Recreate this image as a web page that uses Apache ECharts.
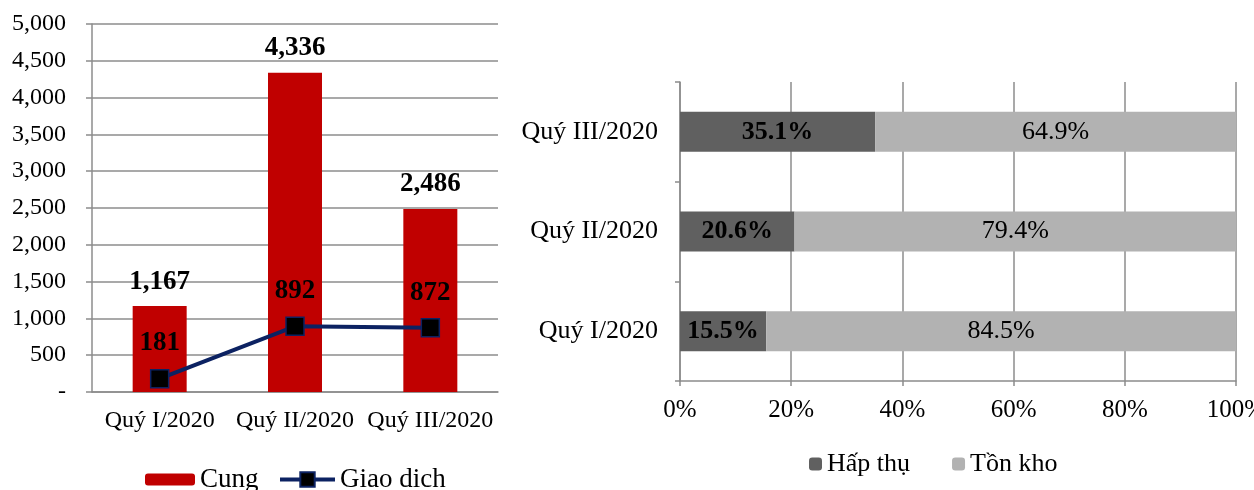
<!DOCTYPE html>
<html><head><meta charset="utf-8">
<script src="https://cdn.jsdelivr.net/npm/echarts@6/dist/echarts.min.js"></script>
<style>html,body{margin:0;padding:0;background:#fff}#c{width:1254px;height:490px}</style>
</head><body><div id="c"></div>
<script>
const quarters = ['Quý I/2020', 'Quý II/2020', 'Quý III/2020'];
const cung = [1167, 4336, 2486];
const giaoDich = [181, 892, 872];
const hapThu = [15.5, 20.6, 35.1];
const tonKho = [84.5, 79.4, 64.9];
const pctTicks = ['0%', '20%', '40%', '60%', '80%', '100%'];

const F = 'Liberation Serif, Times New Roman, serif';
const gray = '#8c8c8c';
const fmt = v => v === 0 ? '-' : v.toLocaleString('en-US');

const chart = echarts.init(document.getElementById('c'));
chart.setOption({
  animation: false,
  textStyle: { fontFamily: F, color: '#000' },
  grid: [
    { left: 92, top: 24, width: 406, height: 368, containLabel: false, outerBoundsMode: 'none' },
    { left: 680, top: 82, width: 556, height: 299, containLabel: false, outerBoundsMode: 'none' }
  ],
  legend: [
    { data: ['Cung'], left: 145, top: 466, padding: 0, itemWidth: 50, itemHeight: 12,
      textStyle: { fontFamily: F, fontSize: 27, color: '#000' } },
    { data: ['Giao dich'], left: 278, top: 466, padding: 0, itemWidth: 55, itemHeight: 18,
      lineStyle: { width: 4 },
      textStyle: { fontFamily: F, fontSize: 27, color: '#000' } },
    { data: ['Hấp thụ', 'Tồn kho'], left: 809, top: 451, padding: 0, itemWidth: 13, itemHeight: 13, itemGap: 42,
      textStyle: { fontFamily: F, fontSize: 26, color: '#000' } }
  ],
  xAxis: [
    { gridIndex: 0, type: 'category', data: quarters,
      axisLine: { lineStyle: { color: gray, width: 1.5 } },
      axisTick: { length: 6, lineStyle: { color: gray, width: 1.5 } },
      axisLabel: { fontFamily: F, fontSize: 24, color: '#000', margin: 17, interval: 0, hideOverlap: false } },
    { gridIndex: 1, type: 'value', min: 0, max: 100, interval: 20,
      axisLine: { show: true, lineStyle: { color: gray, width: 1.5 } },
      axisTick: { show: true, length: 5, lineStyle: { color: gray, width: 1.5 } },
      splitLine: { show: true, lineStyle: { color: gray, width: 1.5 } },
      axisLabel: { fontFamily: F, fontSize: 25, color: '#000', margin: 17,
        formatter: v => pctTicks[Math.round(v / 20)] } }
  ],
  yAxis: [
    { gridIndex: 0, type: 'value', min: 0, max: 5000, interval: 500,
      axisLine: { show: true, lineStyle: { color: gray, width: 1.5 } },
      axisTick: { show: true, length: 6, lineStyle: { color: gray, width: 1.5 } },
      splitLine: { show: true, lineStyle: { color: gray, width: 1.5 } },
      axisLabel: { fontFamily: F, fontSize: 24, color: '#000', margin: 26, formatter: fmt } },
    { gridIndex: 1, type: 'category', data: quarters,
      axisLine: { show: true, lineStyle: { color: gray, width: 1.5 } },
      axisTick: { show: true, length: 5, lineStyle: { color: gray, width: 1.5 } },
      axisLabel: { fontFamily: F, fontSize: 26, color: '#000', margin: 22, interval: 0 } }
  ],
  series: [
    { name: 'Cung', type: 'bar', xAxisIndex: 0, yAxisIndex: 0, data: cung, barWidth: 54,
      itemStyle: { color: '#c00000' },
      label: { show: true, position: 'top', distance: 11, fontFamily: F, fontSize: 27, fontWeight: 'bold',
        color: '#000', formatter: p => fmt(p.value) } },
    { name: 'Giao dich', type: 'line', xAxisIndex: 0, yAxisIndex: 0, data: giaoDich,
      symbol: 'rect', symbolSize: 18,
      lineStyle: { color: '#0c2262', width: 4 },
      itemStyle: { color: '#000', borderColor: '#0c2262', borderWidth: 1.5 },
      label: { show: true, position: 'top', distance: 12, fontFamily: F, fontSize: 27, fontWeight: 'bold',
        color: '#000', formatter: p => fmt(p.value) } },
    { name: 'Hấp thụ', type: 'bar', stack: 'p', xAxisIndex: 1, yAxisIndex: 1, data: hapThu, barWidth: 40,
      itemStyle: { color: '#606060' },
      label: { show: true, position: 'inside', fontFamily: F, fontSize: 26, fontWeight: 'bold', color: '#000',
        formatter: p => p.value.toFixed(1) + '%' } },
    { name: 'Tồn kho', type: 'bar', stack: 'p', xAxisIndex: 1, yAxisIndex: 1, data: tonKho, barWidth: 40,
      itemStyle: { color: '#b2b2b2' },
      label: { show: true, position: 'inside', fontFamily: F, fontSize: 26, color: '#000',
        formatter: p => p.value.toFixed(1) + '%' } }
  ]
});
</script></body></html>
